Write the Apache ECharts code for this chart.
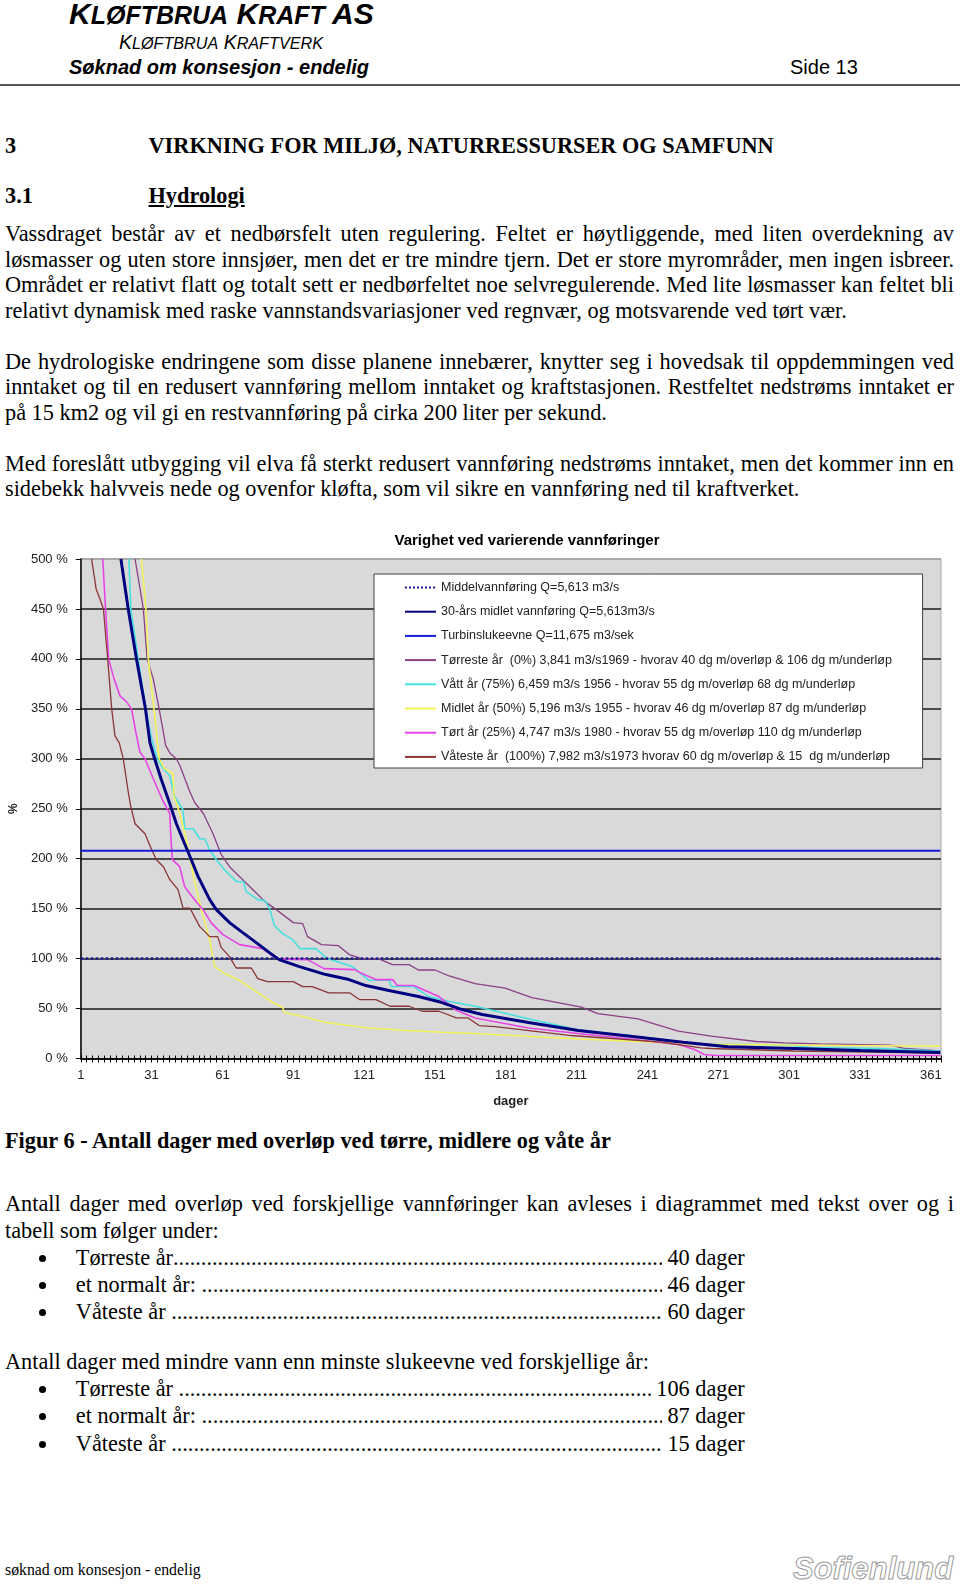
<!DOCTYPE html>
<html><head><meta charset="utf-8">
<script src="https://cdn.jsdelivr.net/npm/echarts@6/dist/echarts.min.js"></script>
<style>
html,body{margin:0;padding:0;background:#fff;}
body{width:960px;height:1584px;position:relative;overflow:hidden;}
.s{position:absolute;font-family:"Liberation Sans",Arial,sans-serif;color:#000;white-space:nowrap;}
.t{position:absolute;font-family:"Liberation Serif","Times New Roman",serif;font-size:22.3px;line-height:25.6px;color:#000;white-space:nowrap;left:5px;}
.j{width:949px;text-align:justify;text-align-last:justify;white-space:normal;}
.b{font-weight:bold;}
.lead{left:75.8px;width:669px;display:flex;}
.dots{flex:1;overflow:hidden;white-space:nowrap;}
.bul{position:absolute;left:39px;width:7px;height:7px;border-radius:50%;background:#000;}
#chart{position:absolute;left:0;top:520px;width:960px;height:600px;}
</style></head><body>

<div class="s" style="left:69px;top:-1.4px;font-size:30px;line-height:30px;font-weight:bold;font-style:italic;">K<span style="font-size:25px">LØFTBRUA</span> K<span style="font-size:25px">RAFT</span> AS</div>
<div class="s" style="left:119px;top:33px;font-size:19.4px;line-height:19.4px;font-style:italic;">K<span style="font-size:16.2px">LØFTBRUA</span> K<span style="font-size:16.2px">RAFTVERK</span></div>
<div class="s" style="left:69px;top:56.6px;font-size:20px;line-height:20px;font-weight:bold;font-style:italic;">Søknad om konsesjon - endelig</div>
<div class="s" style="left:790px;top:56.6px;font-size:20px;line-height:20px;">Side 13</div>
<div style="position:absolute;left:0;top:84px;width:960px;height:2px;background:#555;"></div>

<div class="t b" style="top:133.2px;">3</div>
<div class="t b" style="top:133.2px;left:148.5px;">VIRKNING FOR MILJØ, NATURRESSURSER OG SAMFUNN</div>
<div class="t b" style="top:182.7px;">3.1</div>
<div class="t b" style="top:182.7px;left:148.5px;text-decoration:underline;">Hydrologi</div>

<div class="t j" style="top:221.1px;">Vassdraget består av et nedbørsfelt uten regulering. Feltet er høytliggende, med liten overdekning av</div>
<div class="t j" style="top:246.7px;">løsmasser og uten store innsjøer, men det er tre mindre tjern. Det er store myrområder, men ingen isbreer.</div>
<div class="t j" style="top:272.3px;">Området er relativt flatt og totalt sett er nedbørfeltet noe selvregulerende. Med lite løsmasser kan feltet bli</div>
<div class="t" style="top:297.9px;">relativt dynamisk med raske vannstandsvariasjoner ved regnvær, og motsvarende ved tørt vær.</div>

<div class="t j" style="top:348.5px;">De hydrologiske endringene som disse planene innebærer, knytter seg i hovedsak til oppdemmingen ved</div>
<div class="t j" style="top:374.1px;">inntaket og til en redusert vannføring mellom inntaket og kraftstasjonen. Restfeltet nedstrøms inntaket er</div>
<div class="t" style="top:399.7px;">på 15 km2 og vil gi en restvannføring på cirka 200 liter per sekund.</div>

<div class="t j" style="top:450.5px;">Med foreslått utbygging vil elva få sterkt redusert vannføring nedstrøms inntaket, men det kommer inn en</div>
<div class="t" style="top:476.1px;">sidebekk halvveis nede og ovenfor kløfta, som vil sikre en vannføring ned til kraftverket.</div>

<div id="chart"></div>

<div class="t b" style="top:1127.7px;">Figur 6 - Antall dager med overløp ved tørre, midlere og våte år</div>

<div class="t j" style="top:1191.2px;">Antall dager med overløp ved forskjellige vannføringer kan avleses i diagrammet med tekst over og i</div>
<div class="t" style="top:1217.5px;">tabell som følger under:</div>

<div class="bul" style="top:1254.5px;"></div>
<div class="t lead" style="top:1244.7px;"><span>Tørreste år</span><span class="dots"></span><span>&nbsp;40 dager</span></div>
<div class="bul" style="top:1281.9px;"></div>
<div class="t lead" style="top:1272.1px;"><span>et normalt år:&nbsp;</span><span class="dots"></span><span>&nbsp;46 dager</span></div>
<div class="bul" style="top:1309.2px;"></div>
<div class="t lead" style="top:1299.4px;"><span>Våteste år&nbsp;</span><span class="dots"></span><span>&nbsp;60 dager</span></div>

<div class="t" style="top:1348.7px;">Antall dager med mindre vann enn minste slukeevne ved forskjellige år:</div>

<div class="bul" style="top:1385.9px;"></div>
<div class="t lead" style="top:1376.1px;"><span>Tørreste år&nbsp;</span><span class="dots"></span><span>&nbsp;106 dager</span></div>
<div class="bul" style="top:1413.2px;"></div>
<div class="t lead" style="top:1403.4px;"><span>et normalt år:&nbsp;</span><span class="dots"></span><span>&nbsp;87 dager</span></div>
<div class="bul" style="top:1440.5px;"></div>
<div class="t lead" style="top:1430.7px;"><span>Våteste år&nbsp;</span><span class="dots"></span><span>&nbsp;15 dager</span></div>

<div class="t" style="top:1561px;font-size:15.8px;line-height:18px;">søknad om konsesjon - endelig</div>
<div class="s" style="left:793px;top:1553px;font-size:31px;line-height:31px;font-weight:bold;font-style:italic;color:#fff;-webkit-text-stroke:1px #9a9a9a;">Sofienlund</div>

<script>
// ---- data (day number, percent of mean flow) ----
const seriesNames = [
  'Middelvannføring Q=5,613 m3/s',
  '30-års midlet vannføring Q=5,613m3/s',
  'Turbinslukeevne Q=11,675 m3/sek',
  'Tørreste år  (0%) 3,841 m3/s1969 - hvorav 40 dg m/overløp & 106 dg m/underløp',
  'Vått år (75%) 6,459 m3/s 1956 - hvorav 55 dg m/overløp 68 dg m/underløp',
  'Midlet år (50%) 5,196 m3/s 1955 - hvorav 46 dg m/overløp 87 dg m/underløp',
  'Tørt år (25%) 4,747 m3/s 1980 - hvorav 55 dg m/overløp 110 dg m/underløp',
  'Våteste år  (100%) 7,982 m3/s1973 hvorav 60 dg m/overløp & 15  dg m/underløp'
];
const xTickDays = [1, 31, 61, 91, 121, 151, 181, 211, 241, 271, 301, 331, 361];
const yTicks = [0, 50, 100, 150, 200, 250, 300, 350, 400, 450, 500];

const meanFlowLine = [[1, 100], [365, 100]];
const turbineCapacityLine = [[1, 208], [365, 208]];

const thirtyYearMean = [[18,500],[21.1,450],[24.6,400],[28.4,350],[30.3,316],[32.3,300],[35,280],[38.7,255],[41.5,235],[45,215],[47.8,199],[50.7,182],[55.6,159],[58.4,149],[64,136],[69.6,126],[75.3,116],[80.9,106],[85,99],[93.6,92],[104.8,84],[114.6,79],[121.7,73],[131.5,68],[144,62],[154,56],[162.5,49],[171,44],[190.6,36],[211.7,28],[232.8,22.5],[256,16.3],[275,11.7],[303,10],[331,8],[365,6]];

const driestYear = [[24,500],[27.5,450],[29.1,400],[31.7,380],[34.2,350],[37,313],[39,305],[41.5,300],[43,293],[47.2,267],[49.3,256],[53,245],[57,225],[60.5,204],[64,192],[69.6,179],[73.9,169],[79.5,156],[83,150.5],[91,136],[95,135],[97,122],[103,114],[110,113],[114.7,104],[120,100],[127,100],[133,94],[140,94],[144,88.6],[151,88.6],[157,82.6],[168,75],[180.7,70.5],[192,61],[213,51.5],[220,45],[237,39.7],[247,32.3],[254,27.3],[268,22.3],[287,17],[299,15.6],[314,14.6],[344,13.3],[350,10],[365,7.5]];

const wetYear = [[21.4,500],[22.2,450],[25.3,400],[28.6,350],[31,320],[33.4,300],[36,290],[38.7,283],[40.8,262],[44.3,249],[45,230],[48.6,230],[51.4,220],[53.5,220],[55.6,209],[58.4,199],[62.6,187],[67,177],[70,177],[71,167],[76,159],[79,158],[81,150],[83,133],[86.5,125],[90.7,119],[93.8,110],[100.5,110],[105.5,100],[116,92],[123,78.3],[131.6,78.3],[132.5,72],[142,72],[148.5,62],[157,57],[168,52.3],[190,40],[211,29],[232.8,23],[256,16.5],[265,14.5],[300,13.5],[310,11],[340,10],[365,7.5]];

const medianYear = [[26.7,500],[28.6,450],[29.6,400],[32,350],[34.2,300],[36.5,290],[38.7,287],[40.1,285],[40.5,262],[41.5,256],[42.9,245],[45.7,219],[47.4,199],[49.3,176],[52,149],[55.6,119],[57,100],[57.7,92],[62,85],[68.3,78],[76.7,65],[82.3,56],[86.5,51],[87.2,46],[95,42],[104.8,36],[123,30.6],[137,28.3],[154,26.3],[168,25],[211.7,19.5],[261,14.5],[300,13.5],[365,12.3]];

const dryYear = [[10.3,500],[11.5,450],[12.8,400],[15.1,380],[17.6,363],[20.4,357],[22.5,350],[24.3,327],[26,307],[28.2,300],[31.7,280],[35.6,259],[38.7,245],[39.2,220],[39.8,199],[42.9,192],[45,172],[49.2,159],[52.8,149],[56.2,136],[61.2,124],[68.3,114],[78,110],[82,103],[85,99.5],[97,99],[104,90],[117,89],[120,85],[126,79],[133,79],[135,73],[142,73],[152.7,62],[159.7,48.6],[168,40.5],[190.6,30.6],[211.7,25],[235.6,19],[254,14],[261,9],[265,4],[270,3],[365,3]];

const wettestYear = [[5.6,500],[7.5,470],[8.5,464],[10.6,450],[12.4,400],[14.1,350],[15.5,323],[17.3,316],[19,300],[21.1,267],[22.1,253],[24,235],[28.2,225],[30.5,212],[33,199],[36,192],[38.7,179],[42.2,169],[44.3,150.6],[47.2,150.6],[51.4,132],[55.6,122],[59,122],[60.5,111],[64,102],[66.8,90.6],[73.2,90.6],[76,80],[80,77],[91,77],[95,72],[99,72],[106,65.6],[115,65.6],[119,59],[126,59],[132,52.3],[140,52.3],[145.6,47.3],[152.7,47.3],[160,40.6],[165,40.6],[169.7,33],[176.5,32],[208.8,23],[246.8,16.3],[263.6,10.7],[268,10],[303,7.5],[365,5.5]];

// fill dot leaders
document.querySelectorAll('.dots').forEach(function (el) { el.textContent = '.'.repeat(200); });

const toIdx = function (arr) { return arr.map(function (p) { return [p[0] - 1, p[1]]; }); };
const FONT = '"Liberation Sans", Arial, sans-serif';

const styles = [
  { color: '#1c1c9a', width: 2.5, type: 'dotted', z: 4 },
  { color: '#000080', width: 3, type: 'solid', z: 6 },
  { color: '#1a1ad6', width: 2, type: 'solid', z: 4 },
  { color: '#8b3f86', width: 1.3, type: 'solid', z: 3 },
  { color: '#45e0e0', width: 1.6, type: 'solid', z: 3 },
  { color: '#f2f25a', width: 1.6, type: 'solid', z: 3 },
  { color: '#e645e6', width: 1.6, type: 'solid', z: 3 },
  { color: '#8b3535', width: 1.3, type: 'solid', z: 3 }
];
const datasets = [meanFlowLine, thirtyYearMean, turbineCapacityLine, driestYear, wetYear, medianYear, dryYear, wettestYear];

const series = datasets.map(function (d, i) {
  return {
    name: seriesNames[i], type: 'line', data: toIdx(d), showSymbol: false, symbol: 'none',
    clip: true, z: styles[i].z, animation: false,
    lineStyle: { color: styles[i].color, width: styles[i].width, type: styles[i].type },
    itemStyle: { color: styles[i].color }
  };
});

const gridColors = yTicks.map(function (v, i) { return i === yTicks.length - 1 ? '#a8a8a8' : '#4a4a4a'; });

const chart = echarts.init(document.getElementById('chart'));
chart.setOption({
  animation: false,
  textStyle: { fontFamily: FONT },
  grid: { left: 77.3, top: 39, width: 863.7, height: 499.5, show: true, backgroundColor: '#d9d9d9', borderColor: '#a8a8a8', borderWidth: 1 },
  xAxis: [{
    type: 'value', min: 0, max: 364.3, interval: 30, position: 'bottom',
    axisLine: { show: true, onZero: false, lineStyle: { color: '#000', width: 1.5 } },
    axisTick: { show: true, length: 4, lineStyle: { color: '#000' } },
    minorTick: { show: true, splitNumber: 12, length: 4, lineStyle: { color: '#000' } },
    splitLine: { show: false },
    axisLabel: { showMaxLabel: false, fontSize: 13, color: '#222', margin: 10, fontFamily: FONT,
      formatter: function (v) { const d = Math.round(v) + 1; return xTickDays.indexOf(d) >= 0 ? String(d) : ''; } },
    name: 'dager', nameLocation: 'middle', nameGap: 36,
    nameTextStyle: { fontWeight: 'bold', fontSize: 13, color: '#222', fontFamily: FONT }
  }, {
    type: 'value', min: 0, max: 364.3, interval: 30, position: 'bottom', gridIndex: 0,
    axisLine: { show: false },
    axisTick: { show: true, inside: true, length: 3, lineStyle: { color: '#000' } },
    minorTick: { show: true, splitNumber: 12, length: 3, lineStyle: { color: '#000' } },
    splitLine: { show: false }, axisLabel: { show: false }
  }],
  yAxis: {
    type: 'value', min: 0, max: 500, interval: 50,
    axisLine: { show: true, lineStyle: { color: '#000', width: 1.5 } },
    axisTick: { show: true, length: 5, lineStyle: { color: '#000' } },
    axisLabel: { formatter: '{value} %', fontSize: 13, color: '#222', margin: 13, fontFamily: FONT },
    splitLine: { show: true, lineStyle: { color: gridColors, width: 2 } },
    name: '%', nameLocation: 'middle', nameGap: 58, nameRotate: 90,
    nameTextStyle: { fontSize: 12, fontWeight: 'bold', color: '#222', fontFamily: FONT }
  },
  legend: {
    orient: 'vertical', left: 404, top: 61, padding: 0, itemWidth: 31, itemHeight: 14, itemGap: 11.2,
    selectedMode: false, z: 60, data: seriesNames,
    itemStyle: { opacity: 0, borderWidth: 0 },
    textStyle: { fontSize: 12.5, color: '#222', fontFamily: FONT }
  },
  graphic: [
    { type: 'rect', z: 50, shape: { x: 374, y: 54, width: 548.6, height: 194 },
      style: { fill: '#fff', stroke: '#404040', lineWidth: 1 } },
    { type: 'text', z: 50, x: 527, y: 21,
      style: { text: 'Varighet ved varierende vannføringer', font: 'bold 15px ' + FONT, textAlign: 'center', textVerticalAlign: 'middle', fill: '#000' } }
  ],
  series: series
});
</script>
</body></html>
